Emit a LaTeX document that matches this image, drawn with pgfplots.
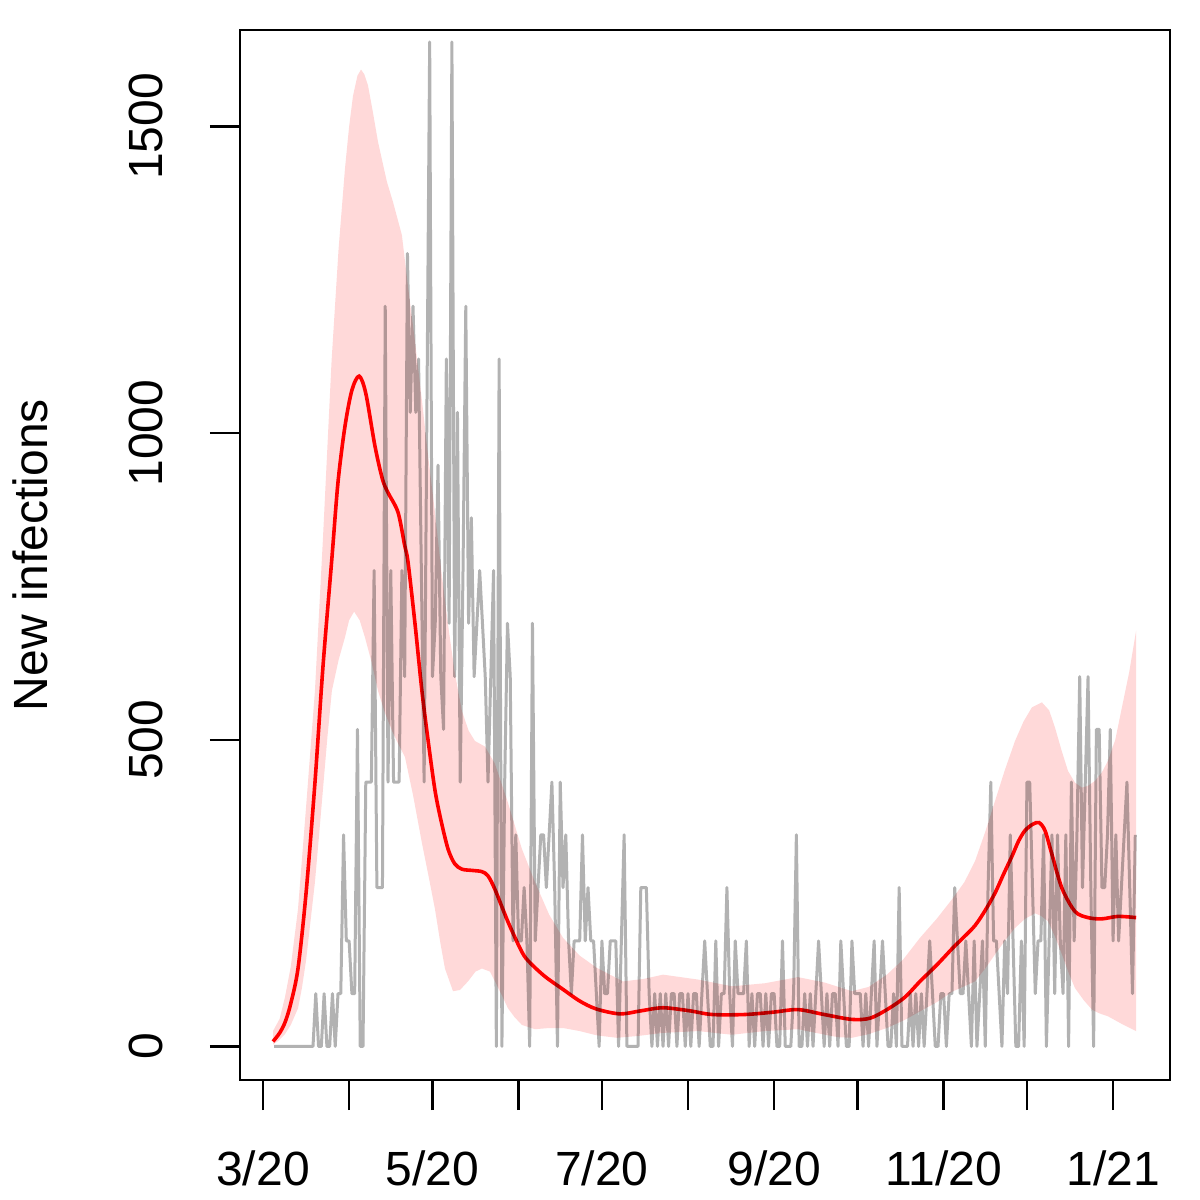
\documentclass[border=0pt]{standalone}
\usepackage{fontspec}
\setmainfont{Liberation Sans}
\usepackage{pgfplots}
\pgfplotsset{compat=1.18}
\begin{document}
\begin{tikzpicture}
\useasboundingbox (0,0) rectangle (600pt,600pt);
\begin{axis}[
 at={(120pt,60pt)}, anchor=south west, scale only axis,
 width=465pt, height=525pt,
 xmin=-8.28, xmax=326.5, ymin=-54.8, ymax=1657.5,
 axis line style={line width=1.2pt},
 every tick/.style={line width=1.2pt, black},
 tick align=outside, major tick length=15pt,
 xtick pos=bottom, ytick pos=left,
 xtick={0,31,61,92,122,153,184,214,245,275,306},
 xticklabels={3/20,,5/20,,7/20,,9/20,,11/20,,1/21},
 ytick={0,500,1000,1500},
 /pgf/number format/assume math mode=true,
 /pgf/number format/1000 sep={},
 tick label style={font=\fontsize{24}{28}\selectfont},
 yticklabel style={rotate=90, anchor=south, inner sep=0pt},
 xticklabel style={anchor=north, inner sep=0pt},
 yticklabel shift=23.5pt,
 xticklabel shift=20pt,
 ylabel={New infections},
 ylabel style={font=\fontsize{24}{28}\selectfont, at={(axis description cs:-0.2258,0.5)}, anchor=center, inner sep=0pt},
]
\addplot[fill=red, fill opacity=0.15, draw=none] table[row sep=\\] {x y\\
3.6 25\\ 6 45\\ 7.9 80\\ 10 130\\ 12.6 224\\ 15.5 390\\ 18.7 580\\ 21.6 830\\ 24.7 1119\\ 27.2 1300\\ 29.5 1431\\ 31 1500\\ 32.4 1550\\ 34 1583\\ 35.3 1593\\ 36.5 1585\\ 37.8 1567\\ 39.5 1525\\ 41.4 1475\\ 44.6 1410\\ 46.8 1377\\ 50 1323\\ 52.2 1239\\ 54.7 1150\\ 57.2 1054\\ 59.5 960\\ 61.9 871\\ 64.2 775\\ 66.6 688\\ 69 610\\ 71.6 547\\ 74 515\\ 76.3 498\\ 79.9 489\\ 83.5 461\\ 88.2 397\\ 93.2 322\\ 97.9 268\\ 103 215\\ 108 177\\ 114 148\\ 120.2 128\\ 129.6 106\\ 137 110\\ 144 117\\ 156.6 109\\ 168.8 98\\ 180.7 103\\ 192.6 113\\ 202.3 104\\ 212 90\\ 218 97\\ 224.6 117\\ 230.5 142\\ 236.5 177\\ 242.5 208\\ 248.4 242\\ 252.5 268\\ 256.3 302\\ 260 350\\ 263.5 400\\ 267 450\\ 270.7 498\\ 273.8 530\\ 276.8 553\\ 280.4 561\\ 283 548\\ 285.1 520\\ 287.5 482\\ 289.8 449\\ 292.3 430\\ 294.8 422\\ 297 425\\ 299.5 433\\ 302 447\\ 304.2 466\\ 306.8 500\\ 309.2 553\\ 311.8 610\\ 314.3 678\\
314.3 25\\ 309 37\\ 304.2 49\\ 301 54\\ 298.4 60\\ 295.5 75\\ 292.3 95\\ 290 120\\ 287.6 150\\ 285 180\\ 282.6 204\\ 280 213\\ 277.9 217\\ 274.3 208\\ 270.7 193\\ 267 172\\ 263.5 150\\ 260 127\\ 256.3 106\\ 252.5 98\\ 248.4 90\\ 242.5 72\\ 236.5 57\\ 230.5 42\\ 224.6 30\\ 218 20\\ 212 14\\ 207 15\\ 202.3 19\\ 192.6 28\\ 180.7 25\\ 168.8 19\\ 156.6 25\\ 144 22\\ 135 17\\ 127.4 14\\ 120.2 18\\ 114 25\\ 108 30\\ 103 30\\ 97.9 28\\ 93.2 35\\ 90.5 48\\ 88.2 62\\ 85.8 85\\ 83.5 106\\ 81.7 122\\ 78.8 127\\ 76.5 122\\ 73.8 106\\ 70.9 92\\ 68.4 90\\ 65.5 127\\ 63.8 170\\ 61.9 224\\ 59.5 280\\ 57.2 332\\ 54 410\\ 51.1 472\\ 48.5 495\\ 46.4 515\\ 43.8 545\\ 41.4 580\\ 39 628\\ 36.7 667\\ 34.8 695\\ 32.8 709\\ 31 695\\ 29.5 667\\ 27.2 630\\ 24.8 580\\ 23.2 505\\ 21.6 420\\ 20.1 340\\ 18.7 268\\ 17 200\\ 15.5 140\\ 14 95\\ 12.6 62\\ 10 35\\ 7.9 20\\ 5.5 9\\ 3.6 3\\
} -- cycle;
\addplot[red, line width=1.8pt, smooth] table[row sep=\\] {x y\\
3.6 8\\ 6 22\\ 8 40\\ 10 70\\ 12.6 127\\ 15.5 250\\ 18.7 430\\ 21.6 620\\ 24.8 796\\ 27 920\\ 29.5 1011\\ 32 1070\\ 34.6 1093\\ 37 1065\\ 40.3 979\\ 43 925\\ 45 903\\ 48.6 871\\ 51 817\\ 52.2 790\\ 54.7 690\\ 57.2 580\\ 59.4 500\\ 61.9 418\\ 64 370\\ 66.6 322\\ 69 298\\ 71.6 289\\ 75.2 287\\ 78.8 285\\ 81 278\\ 83.5 256\\ 88.2 203\\ 93.2 154\\ 96 137\\ 101.5 114\\ 108 93\\ 114 74\\ 120 61\\ 128.5 53\\ 136 58\\ 144 63\\ 153.7 58\\ 161.6 52\\ 173.5 52\\ 184 56\\ 192.6 60\\ 202 52\\ 212 44\\ 218.5 46\\ 224.6 60\\ 231 80\\ 236.5 106\\ 242.6 133\\ 248.4 161\\ 252 177\\ 256.3 197\\ 260 222\\ 263.5 250\\ 266.5 280\\ 269.6 310\\ 272 335\\ 274.3 352\\ 277 362\\ 279.3 365\\ 281.5 352\\ 284 313\\ 287.6 258\\ 292.3 220\\ 297 210\\ 302 208\\ 307.8 212\\ 314.3 210\\
};
\addplot[draw=black, draw opacity=0.3, line width=1.5pt, mark=none, line join=round] table[row sep=\\] {x y\\
4 0\\ 5 0\\ 6 0\\ 7 0\\ 8 0\\ 9 0\\ 10 0\\ 11 0\\ 12 0\\ 13 0\\ 14 0\\ 15 0\\ 16 0\\ 17 0\\ 18 0\\
19 86\\ 20 0\\ 21 0\\ 22 86\\ 23 0\\ 24 0\\ 25 86\\ 26 0\\ 27 86\\ 28 86\\ 29 345\\ 30 172\\ 31 172\\ 32 86\\ 33 86\\ 34 517\\ 35 0\\ 36 0\\ 37 431\\ 38 431\\ 39 431\\ 40 776\\ 41 259\\ 42 259\\ 43 259\\ 44 1207\\ 45 431\\ 46 776\\ 47 431\\ 48 431\\ 49 431\\ 50 776\\ 51 603\\ 52 1293\\ 53 1034\\ 54 1207\\ 55 1034\\ 56 1121\\ 57 776\\ 58 431\\ 59 1034\\ 60 1638\\
61 603\\ 62 690\\ 63 948\\ 64 603\\ 65 517\\ 66 1121\\ 67 690\\ 68 1638\\ 69 603\\ 70 1034\\ 71 431\\ 72 776\\ 73 1207\\ 74 690\\ 75 862\\ 76 603\\ 77 690\\ 78 776\\ 79 690\\ 80 603\\ 81 431\\ 82 603\\ 83 776\\ 84 0\\ 85 1121\\ 86 0\\ 87 431\\ 88 690\\ 89 603\\ 90 172\\
91 345\\ 92 172\\ 93 172\\ 94 259\\ 95 172\\ 96 0\\ 97 690\\ 98 172\\ 99 259\\ 100 345\\ 101 345\\ 102 259\\ 103 345\\ 104 431\\ 105 259\\ 106 0\\ 107 431\\ 108 259\\ 109 345\\ 110 172\\ 111 86\\ 112 172\\ 113 172\\ 114 172\\ 115 345\\ 116 172\\ 117 259\\ 118 172\\ 119 172\\ 120 86\\
121 0\\ 122 172\\ 123 86\\ 124 86\\ 125 172\\ 126 172\\ 127 172\\ 128 0\\ 129 172\\ 130 345\\ 131 0\\ 132 0\\ 133 0\\ 134 0\\ 135 0\\ 136 259\\ 137 259\\ 138 259\\ 139 86\\ 140 0\\ 141 86\\ 142 0\\ 143 86\\ 144 0\\ 145 86\\ 146 0\\ 147 86\\ 148 86\\ 149 0\\ 150 86\\
151 86\\ 152 0\\ 153 86\\ 154 0\\ 155 86\\ 156 86\\ 157 0\\ 158 86\\ 159 172\\ 160 86\\ 161 0\\ 162 0\\ 163 172\\ 164 0\\ 165 86\\ 166 86\\ 167 259\\ 168 86\\ 169 0\\ 170 172\\ 171 86\\ 172 86\\ 173 86\\ 174 172\\ 175 0\\ 176 86\\ 177 0\\ 178 86\\ 179 86\\ 180 0\\
181 86\\ 182 0\\ 183 86\\ 184 86\\ 185 0\\ 186 0\\ 187 172\\ 188 0\\ 189 0\\ 190 0\\ 191 86\\ 192 345\\ 193 0\\ 194 0\\ 195 86\\ 196 0\\ 197 86\\ 198 0\\ 199 86\\ 200 172\\ 201 86\\ 202 0\\ 203 86\\ 204 0\\ 205 86\\ 206 86\\ 207 0\\ 208 172\\ 209 86\\ 210 0\\
211 0\\ 212 172\\ 213 86\\ 214 86\\ 215 86\\ 216 0\\ 217 86\\ 218 0\\ 219 86\\ 220 172\\ 221 0\\ 222 86\\ 223 172\\ 224 86\\ 225 0\\ 226 0\\ 227 86\\ 228 0\\ 229 259\\ 230 0\\ 231 0\\ 232 0\\ 233 86\\ 234 0\\ 235 86\\ 236 0\\ 237 86\\ 238 0\\ 239 86\\ 240 172\\
241 86\\ 242 0\\ 243 0\\ 244 86\\ 245 86\\ 246 0\\ 247 86\\ 248 86\\ 249 259\\ 250 172\\ 251 86\\ 252 86\\ 253 172\\ 254 86\\ 255 0\\ 256 172\\ 257 0\\ 258 86\\ 259 172\\ 260 0\\ 261 259\\ 262 431\\ 263 172\\ 264 172\\ 265 86\\ 266 0\\ 267 172\\ 268 86\\ 269 345\\ 270 172\\
271 0\\ 272 0\\ 273 172\\ 274 0\\ 275 431\\ 276 431\\ 277 259\\ 278 86\\ 279 172\\ 280 172\\ 281 345\\ 282 0\\ 283 172\\ 284 345\\ 285 86\\ 286 345\\ 287 172\\ 288 86\\ 289 345\\ 290 0\\ 291 431\\ 292 172\\ 293 345\\ 294 603\\ 295 259\\ 296 431\\ 297 603\\ 298 259\\ 299 0\\ 300 517\\
301 517\\ 302 259\\ 303 259\\ 304 345\\ 305 517\\ 306 172\\ 307 345\\ 308 172\\ 309 259\\ 310 345\\ 311 431\\ 312 259\\ 313 86\\ 314 345\\
};
\end{axis}
\end{tikzpicture}
\end{document}
